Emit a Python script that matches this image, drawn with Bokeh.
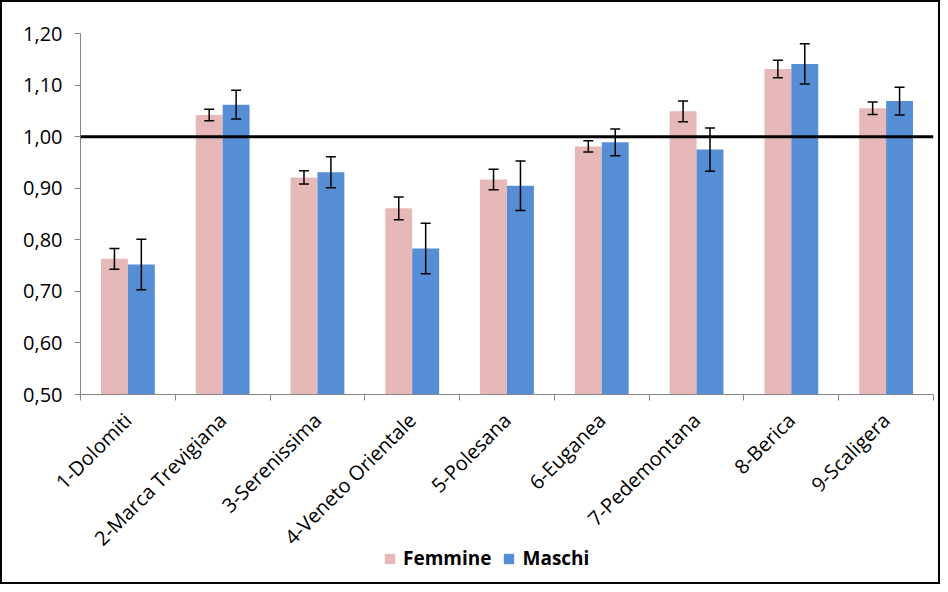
import math
from bokeh.plotting import figure
from bokeh.layouts import column
from bokeh.models import (Range1d, FixedTicker, CustomJSTickFormatter, Whisker, TeeHead,
                          Span, Legend, LegendItem, ColumnDataSource)
from bokeh.embed import file_html
from bokeh.resources import INLINE

categories = ["1-Dolomiti", "2-Marca Trevigiana", "3-Serenissima", "4-Veneto Orientale",
              "5-Polesana", "6-Euganea", "7-Pedemontana", "8-Berica", "9-Scaligera"]
femmine = [0.763, 1.042, 0.921, 0.861, 0.917, 0.981, 1.049, 1.131, 1.055]
femmine_err = [0.020, 0.011, 0.013, 0.022, 0.020, 0.011, 0.020, 0.017, 0.012]
maschi = [0.752, 1.062, 0.931, 0.783, 0.905, 0.989, 0.975, 1.141, 1.069]
maschi_err = [0.049, 0.028, 0.030, 0.049, 0.048, 0.026, 0.042, 0.039, 0.027]
y_ticks = [0.5, 0.6, 0.7, 0.8, 0.9, 1.0, 1.1, 1.2]
reference_value = 1.0

PINK = "#E6B9B8"
BLUE = "#558ED5"
AXIS = "#868686"
FONT = "Open Sans"

n = len(categories)
bar_w = 0.284
centers = [i + 0.5 for i in range(n)]
bounds = [i for i in range(n + 1)]

src_f = ColumnDataSource(dict(
    x=[c - bar_w / 2 for c in centers], top=femmine,
    upper=[v + e for v, e in zip(femmine, femmine_err)],
    lower=[v - e for v, e in zip(femmine, femmine_err)]))
src_m = ColumnDataSource(dict(
    x=[c + bar_w / 2 for c in centers], top=maschi,
    upper=[v + e for v, e in zip(maschi, maschi_err)],
    lower=[v - e for v, e in zip(maschi, maschi_err)]))

p = figure(width=940, height=584, output_backend="svg", toolbar_location=None,
           x_range=Range1d(0, n), y_range=Range1d(y_ticks[0], y_ticks[-1]),
           min_border_left=78, min_border_right=9, min_border_top=31, min_border_bottom=192)
p.outline_line_color = None
p.xgrid.visible = False
p.ygrid.visible = False
p.background_fill_color = "white"
p.border_fill_color = "white"
p.styles = {"border": "2px solid black", "box-sizing": "border-box"}

rF = p.vbar(x="x", top="top", bottom=y_ticks[0], width=bar_w, source=src_f,
            fill_color=PINK, line_color=None)
rM = p.vbar(x="x", top="top", bottom=y_ticks[0], width=bar_w, source=src_m,
            fill_color=BLUE, line_color=None)

for src in (src_f, src_m):
    w = Whisker(base="x", upper="upper", lower="lower", source=src, level="overlay",
                line_color="black", line_width=1.5,
                upper_head=TeeHead(size=10, line_color="black", line_width=1.5),
                lower_head=TeeHead(size=10, line_color="black", line_width=1.5))
    p.add_layout(w)

p.add_layout(Span(location=reference_value, dimension="width", line_color="black",
                  line_width=3, level="overlay"))

# x axis
xa = p.xaxis[0]
xa.ticker = FixedTicker(ticks=centers, minor_ticks=bounds)
xa.formatter = CustomJSTickFormatter(args=dict(cats=categories),
                                     code="return cats[Math.floor(tick)];")
xa.major_label_orientation = math.pi / 4
xa.major_tick_line_color = None
xa.minor_tick_in = 0
xa.minor_tick_out = 6
xa.minor_tick_line_color = AXIS
xa.axis_line_color = AXIS
xa.axis_line_width = 1
xa.major_label_text_font = FONT
xa.major_label_text_font_size = "20px"
xa.major_label_text_color = "black"
xa.major_label_standoff = 16

# y axis
ya = p.yaxis[0]
ya.ticker = FixedTicker(ticks=y_ticks)
ya.formatter = CustomJSTickFormatter(code="return tick.toFixed(2).replace('.', ',');")
ya.major_tick_in = 0
ya.major_tick_out = 6
ya.major_tick_line_color = AXIS
ya.minor_tick_line_color = None
ya.axis_line_color = AXIS
ya.major_label_text_font = FONT
ya.major_label_text_font_size = "20px"
ya.major_label_text_color = "black"
ya.major_label_standoff = 12

# legend strip overlaid on the bottom of the chart
g = figure(width=940, height=40, output_backend="svg", toolbar_location=None,
           min_border=0, x_range=Range1d(100, 101), y_range=Range1d(100, 101))
g.styles = {"margin-top": "-44px"}
g.background_fill_alpha = 0
g.border_fill_alpha = 0
g.axis.visible = False
g.grid.visible = False
g.outline_line_color = None
gF = g.vbar(x="x", top="top", bottom=y_ticks[0], width=bar_w, source=src_f,
            fill_color=PINK, line_color=None)
gM = g.vbar(x="x", top="top", bottom=y_ticks[0], width=bar_w, source=src_m,
            fill_color=BLUE, line_color=None)
legend = Legend(items=[LegendItem(label="Femmine", renderers=[gF]),
                       LegendItem(label="Maschi", renderers=[gM])],
                orientation="horizontal", location=(305, 9),
                border_line_color=None, background_fill_alpha=0,
                label_text_font=FONT, label_text_font_style="bold",
                label_text_font_size="19px", label_text_color="black",
                label_height=20, glyph_width=13, glyph_height=13,
                spacing=11, label_standoff=7, padding=0, margin=0)
g.add_layout(legend, "center")

layout = column(p, g, spacing=0)
open("out.html", "w").write(file_html(layout, INLINE))
